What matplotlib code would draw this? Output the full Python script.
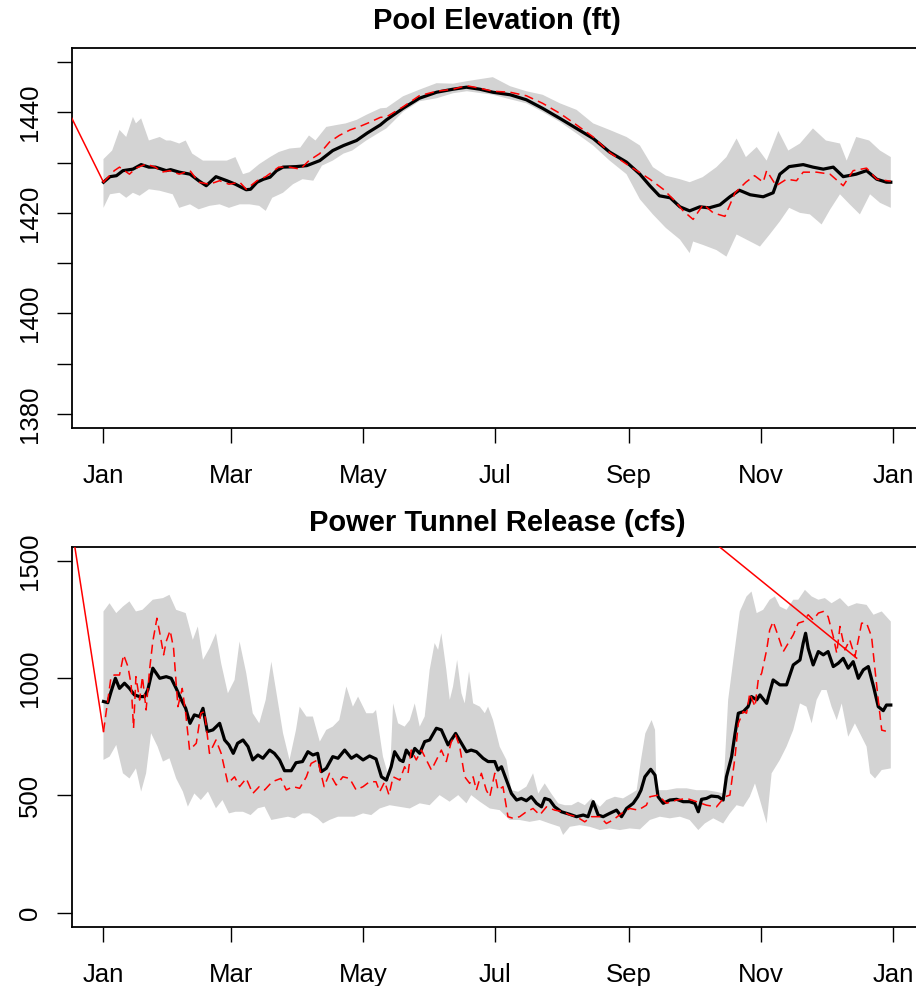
import numpy as np
import matplotlib
matplotlib.use("Agg")
import matplotlib.pyplot as plt
from matplotlib import font_manager as fm

# ---------------- data (day of year, value) ----------------
month_ticks = [0, 59, 120, 181, 243, 304, 365]
month_labels = ["Jan", "Mar", "May", "Jul", "Sep", "Nov", "Jan"]

# Pool elevation (ft)
elev_black_day = [0, 3, 6, 9, 13.6, 17.4, 21, 24, 29, 31, 35, 40, 44, 47.5, 52, 57, 61, 66, 68, 71, 74, 77, 80, 83, 89, 94,
                  100, 106, 111, 117, 122, 128, 130.8, 138.5, 146, 154, 161.6, 167.8, 174, 180, 188, 195.5, 203, 211, 218.7,
                  226.4, 234, 241.8, 248, 252.6, 257, 262, 266.5, 271, 275.7, 280, 285, 289.6, 294, 299, 305, 309.6, 312.7,
                  317, 323.5, 328, 332.8, 337.4, 342, 348, 352.8, 357.5, 362, 364]
elev_black = [1426.1, 1427.2, 1427.4, 1428.4, 1428.7, 1429.6, 1429.1, 1429.1, 1428.4, 1428.6, 1428.1, 1427.7, 1426.4, 1425.4,
              1427.2, 1426.4, 1425.7, 1424.6, 1424.7, 1426.1, 1426.7, 1427.1, 1428.4, 1429.1, 1429.2, 1429.4, 1430.4, 1432.4,
              1433.4, 1434.4, 1435.9, 1437.5, 1438.5, 1440.8, 1442.8, 1444.0, 1444.6, 1445.0, 1444.6, 1444.0, 1443.5, 1442.5,
              1440.8, 1438.8, 1436.8, 1434.8, 1432.1, 1430.1, 1427.7, 1425.4, 1423.4, 1423.0, 1421.2, 1420.4, 1421.2, 1421.0,
              1421.6, 1423.2, 1424.5, 1423.6, 1423.2, 1424.0, 1427.7, 1429.2, 1429.6, 1429.1, 1428.7, 1429.1, 1427.2, 1427.7,
              1428.4, 1426.7, 1426.1, 1426.1]

elev_red_day = [0, 5, 7.4, 12, 15, 19.7, 24, 27, 30.5, 35, 40, 44, 49, 53.7, 58, 63, 66, 71, 75, 81, 86, 91, 95, 100, 104.5,
                109, 114, 118, 123, 128, 130.8, 138.5, 146, 154, 161.6, 167.8, 174, 180, 188, 195.5, 203, 211, 218.7, 226.4,
                234, 241.8, 248, 252.6, 258.8, 263.4, 268, 272.6, 277.3, 281.9, 287.3, 292, 297, 301, 305, 306.6, 311, 315.8,
                320.4, 323.5, 329.7, 335.9, 342, 346.6, 352.8, 357.5, 364]
elev_red = [1426.1, 1428.4, 1429.1, 1427.7, 1428.9, 1429.7, 1429.1, 1428.1, 1428.4, 1427.7, 1428.4, 1426.1, 1425.7, 1426.4,
            1425.7, 1426.1, 1424.7, 1426.4, 1427.2, 1429.1, 1429.1, 1428.7, 1430.4, 1431.8, 1434.1, 1435.4, 1436.5, 1437.1,
            1438.0, 1439.0, 1439.1, 1441.1, 1443.3, 1444.2, 1444.6, 1445.3, 1444.8, 1444.2, 1444.0, 1443.3, 1441.8, 1439.8,
            1437.5, 1435.1, 1432.0, 1429.7, 1428.0, 1426.7, 1424.7, 1422.7, 1420.4, 1418.7, 1421.7, 1420.0, 1419.3, 1424.0,
            1426.1, 1427.4, 1426.1, 1428.4, 1425.4, 1426.7, 1426.4, 1428.1, 1428.1, 1427.7, 1425.4, 1428.4, 1428.9, 1426.7,
            1426.3]

elev_hi_day = [0, 4, 7.4, 10.5, 13.6, 15, 17.4, 21, 26, 29, 31, 35, 38, 41, 46, 52, 57, 61, 64.5, 67.5, 72, 77, 81, 86, 91,
               95, 98, 103, 108, 112, 117, 121.5, 128, 130.8, 138.5, 146, 154, 161.6, 168, 180, 188, 195.5, 203, 211, 218.7,
               226.4, 234, 241.8, 248, 254, 260, 266.5, 271, 277, 283.4, 288, 292.7, 297, 302, 306.6, 312, 316.6, 322, 328,
               334, 340.5, 343.6, 348, 354, 359, 364]
elev_hi = [1430.7, 1432.4, 1436.5, 1435.1, 1439.1, 1437.8, 1438.8, 1434.4, 1435.1, 1434.4, 1434.4, 1433.8, 1434.4, 1431.8,
           1430.4, 1430.4, 1430.4, 1431.1, 1427.7, 1428.1, 1429.7, 1431.1, 1432.1, 1432.8, 1433.0, 1435.4, 1434.4, 1437.1,
           1437.5, 1437.8, 1438.5, 1439.5, 1440.8, 1440.9, 1443.2, 1444.5, 1445.8, 1445.7, 1446.2, 1447.0, 1445.2, 1444.2,
           1443.5, 1441.8, 1440.5, 1437.8, 1436.5, 1435.1, 1433.4, 1429.1, 1427.4, 1426.7, 1426.1, 1427.1, 1429.1, 1431.1,
           1434.8, 1431.1, 1433.1, 1430.4, 1436.3, 1432.4, 1433.8, 1436.8, 1434.4, 1433.8, 1430.4, 1435.1, 1434.4, 1432.4,
           1431.1]

elev_lo_day = [0, 3, 7.4, 10.5, 13.6, 16.7, 21, 26, 32, 35, 40, 44, 49, 53.7, 58, 63, 67.5, 72, 75, 78, 83, 87.6, 92, 97,
               101, 106, 111, 115, 121.5, 128, 130.8, 138.5, 146, 154, 161.6, 168, 180, 188, 195.5, 203, 211, 218.7, 226.4,
               234, 241.8, 248, 254, 260, 266.5, 271, 272.6, 277.3, 283.4, 288, 292.7, 299, 303.5, 308, 312.7, 317, 322,
               326.6, 332, 336, 340.5, 345, 349.7, 354.4, 359, 364]
elev_lo = [1421.0, 1423.7, 1424.0, 1423.0, 1424.0, 1423.4, 1424.7, 1424.4, 1423.7, 1421.0, 1421.7, 1420.7, 1421.4, 1421.7,
           1421.0, 1421.7, 1421.7, 1421.4, 1420.4, 1423.0, 1424.0, 1425.7, 1426.7, 1426.4, 1429.4, 1430.4, 1431.8, 1432.4,
           1434.4, 1436.1, 1436.8, 1440.1, 1442.2, 1442.8, 1443.8, 1444.2, 1443.5, 1442.6, 1441.8, 1440.1, 1438.1, 1435.8,
           1433.4, 1430.4, 1427.7, 1422.7, 1419.7, 1417.0, 1414.7, 1412.0, 1414.3, 1413.6, 1412.6, 1411.3, 1415.7, 1414.3,
           1413.3, 1415.7, 1418.3, 1421.0, 1420.0, 1419.7, 1417.7, 1420.7, 1423.7, 1421.7, 1419.7, 1423.7, 1422.0, 1421.0]

elev_solid_day = [-16, 0]
elev_solid = [1440.0, 1426.1]

# Power tunnel release (cfs)
rel_black_day = [0, 2, 3.5, 5.5, 7.4, 9.7, 12, 14.3, 16.7, 19, 20.5, 22.8, 26, 29, 31.3, 33.6, 36, 38, 40, 42, 44.4, 46, 48,
                 50.6, 53.7, 56, 58, 60, 62, 64.5, 66.8, 69, 71.4, 73.7, 76.8, 79, 81.4, 83.7, 86.8, 89, 92, 94.5, 96.8, 99,
                 100.7, 103, 106, 108.4, 111.5, 114.6, 117, 120, 123, 126, 128.5, 130.8, 133, 134.6, 137, 138.5, 140, 142.3,
                 143.9, 146.2, 148.5, 150.8, 153.9, 156.2, 159.3, 162.8, 165.5, 167.8, 170, 172.4, 175.5, 177.8, 180.9, 182.4,
                 184, 186.3, 188.6, 191, 193.2, 195.5, 197.8, 200.2, 202.5, 204, 206.3, 208.6, 211.7, 215.6, 218.7, 221.8,
                 224, 226.4, 228.7, 231, 234, 237.2, 239.5, 241.8, 244.9, 247, 248.5, 250.3, 253, 255, 256.4, 258.8, 261.8,
                 265, 268, 271, 273.4, 275, 276.5, 278.8, 281, 284.2, 286.5, 288, 290.4, 292, 293.5, 295.8, 298, 299.6, 302,
                 303.5, 306.6, 309.6, 312.7, 315.8, 318.9, 322, 323.5, 324.6, 325.8, 328.1, 330.5, 332.8, 335, 337.4, 339.7,
                 342, 344.3, 346.6, 349, 351.3, 353.6, 356, 358.2, 360.5, 362, 364]
rel_black = [900, 895, 942, 999, 956, 978, 956, 928, 921, 921, 950, 1042, 999, 1006, 999, 956, 907, 871, 807, 843, 836, 871,
             772, 779, 807, 736, 715, 679, 722, 736, 708, 651, 672, 658, 693, 679, 651, 605, 605, 639, 644, 686, 672, 679,
             601, 615, 665, 658, 693, 658, 672, 651, 668, 655, 579, 565, 622, 686, 651, 644, 693, 665, 700, 679, 729, 736,
             786, 779, 715, 764, 722, 686, 693, 686, 658, 644, 644, 608, 622, 565, 508, 480, 487, 477, 494, 466, 451, 487,
             480, 451, 430, 419, 409, 416, 409, 473, 416, 409, 423, 437, 409, 444, 466, 494, 522, 579, 611, 586, 494, 466,
             480, 483, 473, 473, 466, 430, 483, 487, 497, 494, 480, 579, 665, 764, 850, 857, 878, 921, 907, 928, 892, 992,
             971, 971, 1056, 1077, 1149, 1191, 1127, 1056, 1113, 1099, 1113, 1049, 1063, 1084, 1042, 1070, 999, 1035, 1049,
             964, 878, 861, 885, 885]

rel_red_day = [0, 2, 3.5, 5, 7.4, 9.3, 11.3, 12.8, 13.9, 15, 16.7, 18, 19.7, 21.3, 22.8, 24.7, 26.2, 27.8, 29, 30.8, 32.4,
               34.4, 36.4, 38, 39.8, 42.9, 45, 46.7, 49, 52, 54.4, 57.5, 60.6, 62.9, 66, 69, 72, 74.5, 78, 82, 84.5, 87.6,
               90.7, 93.8, 96, 99, 102, 104.5, 107.6, 110.7, 113.8, 116.8, 120, 123, 126, 127.7, 130, 132, 133.9, 137, 139.2,
               140.8, 142.3, 144.6, 147, 149.3, 151.6, 153.9, 156.2, 158.5, 160.8, 162.8, 164.7, 167, 169.3, 170.9, 172.4,
               174.7, 177, 178.6, 180.9, 182.4, 184.7, 187, 189.4, 192.4, 195.5, 198.6, 201.7, 204.8, 208.6, 212.5, 215.6,
               218.7, 222.5, 225.6, 229.5, 232.5, 235.6, 239.5, 243.3, 247.2, 251, 252.6, 256.4, 260.3, 265, 269.6, 274.2,
               278.8, 283.4, 287.3, 289.6, 292, 293.5, 295.8, 297.3, 298.8, 301.2, 302.7, 304.3, 306.6, 308, 309.6, 312,
               314.3, 316.6, 318.9, 321.2, 323.5, 325.8, 328.1, 330.5, 332.8, 335, 337.4, 339, 340.5, 342.8, 345, 347.4, 349,
               350.5, 352.8, 355.1, 356.7, 358.2, 359.8, 362.8]
rel_red = [772, 906, 1006, 1013, 1013, 1099, 1049, 971, 786, 1006, 906, 1006, 864, 1035, 1156, 1255, 1184, 1099, 1156, 1203,
           1127, 878, 956, 850, 693, 722, 850, 857, 679, 736, 679, 551, 579, 537, 572, 508, 537, 523, 558, 572, 523, 537, 530,
           579, 636, 651, 537, 594, 544, 579, 572, 523, 537, 558, 558, 515, 558, 501, 579, 565, 622, 594, 693, 651, 693, 651,
           608, 651, 693, 644, 729, 757, 707, 579, 551, 579, 522, 594, 522, 494, 594, 522, 537, 409, 402, 409, 430, 444, 416,
           451, 437, 430, 416, 409, 387, 409, 409, 380, 395, 423, 444, 437, 458, 494, 501, 466, 480, 487, 473, 458, 451, 494,
           501, 665, 807, 857, 850, 935, 878, 992, 1021, 1120, 1205, 1241, 1177, 1113, 1149, 1184, 1234, 1241, 1270, 1248,
           1277, 1284, 1262, 1177, 1106, 1220, 1120, 1163, 1091, 1163, 1234, 1234, 1177, 1035, 907, 778, 771]

rel_hi_day = [0, 2.8, 5.9, 9, 12, 15, 18, 22.8, 27.5, 30.5, 33.6, 38, 41.3, 43.6, 46, 49, 52, 54.4, 57.5, 60.6, 62.9, 66, 69,
              72, 75, 77.6, 80, 83, 86, 89, 90.7, 93.8, 96.8, 100, 103, 106, 109, 112.3, 115.3, 117.7, 121.5, 124.6, 126,
              129.2, 132.3, 133.9, 136.2, 139.2, 141.6, 143.9, 146.2, 148.5, 150.8, 153.1, 154.7, 156.2, 158.5, 160.1, 161.6,
              163.5, 165.5, 167, 169, 170.9, 174, 176.3, 177.8, 180.1, 183.2, 186.3, 188.6, 191.7, 195.5, 198.6, 201, 204,
              207, 210.2, 213.3, 216.4, 219.4, 222.5, 225.6, 229.5, 232.5, 236.4, 240.2, 244.1, 246.5, 248.5, 250.5, 253.4,
              255, 255.7, 260.3, 265, 269.6, 274.2, 278.8, 283.4, 286.5, 288.8, 291.2, 294.2, 297.3, 299.6, 302, 305, 308,
              310.4, 312.7, 315.8, 318.9, 321.2, 324.3, 327.4, 330.5, 333.5, 336.6, 340.5, 344.3, 348.2, 352.8, 356, 359.8,
              364]
rel_hi = [1284, 1319, 1277, 1305, 1327, 1284, 1291, 1334, 1341, 1355, 1291, 1277, 1163, 1220, 1078, 1127, 1191, 1063, 935,
          992, 1156, 1021, 850, 807, 907, 1070, 935, 765, 651, 779, 878, 836, 836, 729, 779, 793, 821, 964, 878, 921, 850,
          850, 864, 665, 565, 892, 807, 793, 821, 892, 793, 836, 1035, 1149, 1120, 1191, 1035, 907, 964, 1077, 935, 892,
          1028, 892, 878, 850, 878, 821, 707, 651, 522, 515, 537, 594, 508, 551, 508, 466, 458, 458, 473, 458, 487, 451, 480,
          494, 487, 508, 522, 651, 764, 821, 779, 522, 522, 530, 530, 522, 522, 515, 508, 907, 1077, 1284, 1348, 1369, 1277,
          1291, 1334, 1348, 1305, 1291, 1334, 1334, 1376, 1348, 1334, 1341, 1319, 1341, 1305, 1319, 1312, 1270, 1284, 1241]

rel_lo_day = [0, 2.8, 5.9, 9, 12, 15, 17.4, 19.7, 22, 25, 27.5, 30.5, 33.6, 36.7, 39, 42, 45, 48.3, 52, 55, 58, 61, 64.5, 68,
              71.4, 74.5, 77.6, 81.4, 85.3, 88.4, 92, 95.3, 99, 101.5, 104.5, 108.4, 112.3, 116, 120, 123.8, 127.7, 132.3,
              137, 141.6, 146.2, 150.8, 155.4, 160, 164, 167.8, 170, 174, 178.6, 183.2, 187.8, 192.4, 197, 201.7, 206.3,
              210.9, 212.5, 215.6, 220.2, 224.8, 229.5, 234, 238.7, 243.3, 248, 252.6, 257.2, 261.8, 266.5, 271, 275, 278,
              281.9, 286.5, 289.6, 292.7, 295.8, 298.8, 301.2, 303.5, 306.6, 308.9, 312.7, 315.8, 318.9, 322, 325, 327.4,
              329.7, 332, 334.3, 336.6, 339, 341.3, 344.3, 347.4, 350.5, 352.8, 354.4, 356.7, 359.8, 364]
rel_lo = [651, 665, 715, 594, 572, 615, 516, 594, 765, 708, 644, 658, 572, 516, 452, 508, 480, 516, 445, 480, 423, 430, 430,
          416, 445, 452, 395, 402, 409, 402, 423, 423, 402, 380, 395, 409, 409, 409, 423, 416, 444, 458, 451, 444, 466, 458,
          501, 473, 501, 466, 501, 473, 444, 437, 395, 395, 387, 395, 380, 366, 331, 366, 373, 366, 352, 359, 352, 359, 355,
          395, 409, 402, 409, 395, 352, 380, 402, 380, 423, 458, 451, 494, 551, 480, 380, 594, 651, 708, 779, 892, 878, 807,
          907, 949, 949, 878, 821, 892, 750, 807, 750, 708, 594, 572, 608, 615]

rel_solid1_day = [-16, 0]
rel_solid1 = [1722, 772]
rel_solid2_day = [270, 348.2]
rel_solid2 = [1670, 1085]

# ---------------- fonts ----------------
def have(name):
    try:
        fm.findfont(fm.FontProperties(family=name), fallback_to_default=False)
        return True
    except Exception:
        return False

tick_family = "Liberation Sans Narrow" if have("Liberation Sans Narrow") else "Liberation Sans"
title_family = "Liberation Sans"

# ---------------- figure ----------------
W, H = 916, 986
fig = plt.figure(figsize=(W / 100, H / 100), dpi=100)

left = 72 / W
width = 850.3 / W
ax_h = 380 / H
ax1 = fig.add_axes([left, 1 - 428 / H, width, ax_h])
ax2 = fig.add_axes([left, 1 - 926.7 / H, width, ax_h])

GRAY = "#D3D3D3"


def style(ax, title, yticks, ylabels, ylim, title_pad):
    ax.set_xlim(-14.56, 378.56)
    ax.set_ylim(*ylim)
    ax.set_xticks(month_ticks)
    ax.set_xticklabels(month_labels)
    ax.set_yticks(yticks)
    ax.set_yticklabels(ylabels)
    for s in ax.spines.values():
        s.set_linewidth(1.3)
    ax.tick_params(axis="both", direction="out", length=10.8, width=1.0, colors="black")
    ax.tick_params(axis="x", pad=15)
    ax.tick_params(axis="y", pad=11, labelrotation=90)
    for lab in ax.get_xticklabels() + ax.get_yticklabels():
        lab.set_fontfamily(tick_family)
        lab.set_fontsize(18.5)
    for lab in ax.get_yticklabels():
        lab.set_va("center")
    ax.set_title(title, fontsize=21, fontweight="bold", family=title_family, pad=title_pad)


def draw(ax, hi_d, hi, lo_d, lo, bl_d, bl, rd_d, rd, solids):
    ax.fill(np.concatenate([hi_d, lo_d[::-1]]), np.concatenate([hi, lo[::-1]]),
            color=GRAY, lw=0, zorder=1)
    ax.plot(bl_d, bl, color="black", lw=2.3, zorder=3, solid_joinstyle="round")
    ax.plot(rd_d, rd, color="red", lw=1.1, ls=(0, (6, 3.5)), zorder=4)
    for sd, sv in solids:
        ax.plot(sd, sv, color="red", lw=1.1, zorder=4)


draw(ax1, np.array(elev_hi_day), np.array(elev_hi), np.array(elev_lo_day), np.array(elev_lo),
     elev_black_day, elev_black, elev_red_day, elev_red, [(elev_solid_day, elev_solid)])
yt1 = [1380, 1390, 1400, 1410, 1420, 1430, 1440, 1450]
yl1 = ["1380", "", "1400", "", "1420", "", "1440", ""]
style(ax1, "Pool Elevation (ft)", yt1, yl1, (1377.2, 1452.8), 13.5)

draw(ax2, np.array(rel_hi_day), np.array(rel_hi), np.array(rel_lo_day), np.array(rel_lo),
     rel_black_day, rel_black, rel_red_day, rel_red,
     [(rel_solid1_day, rel_solid1), (rel_solid2_day, rel_solid2)])
yt2 = [0, 500, 1000, 1500]
yl2 = ["0", "500", "1000", "1500"]
style(ax2, "Power Tunnel Release (cfs)", yt2, yl2, (-60, 1560), 11)

fig.savefig("out.png", dpi=100)
